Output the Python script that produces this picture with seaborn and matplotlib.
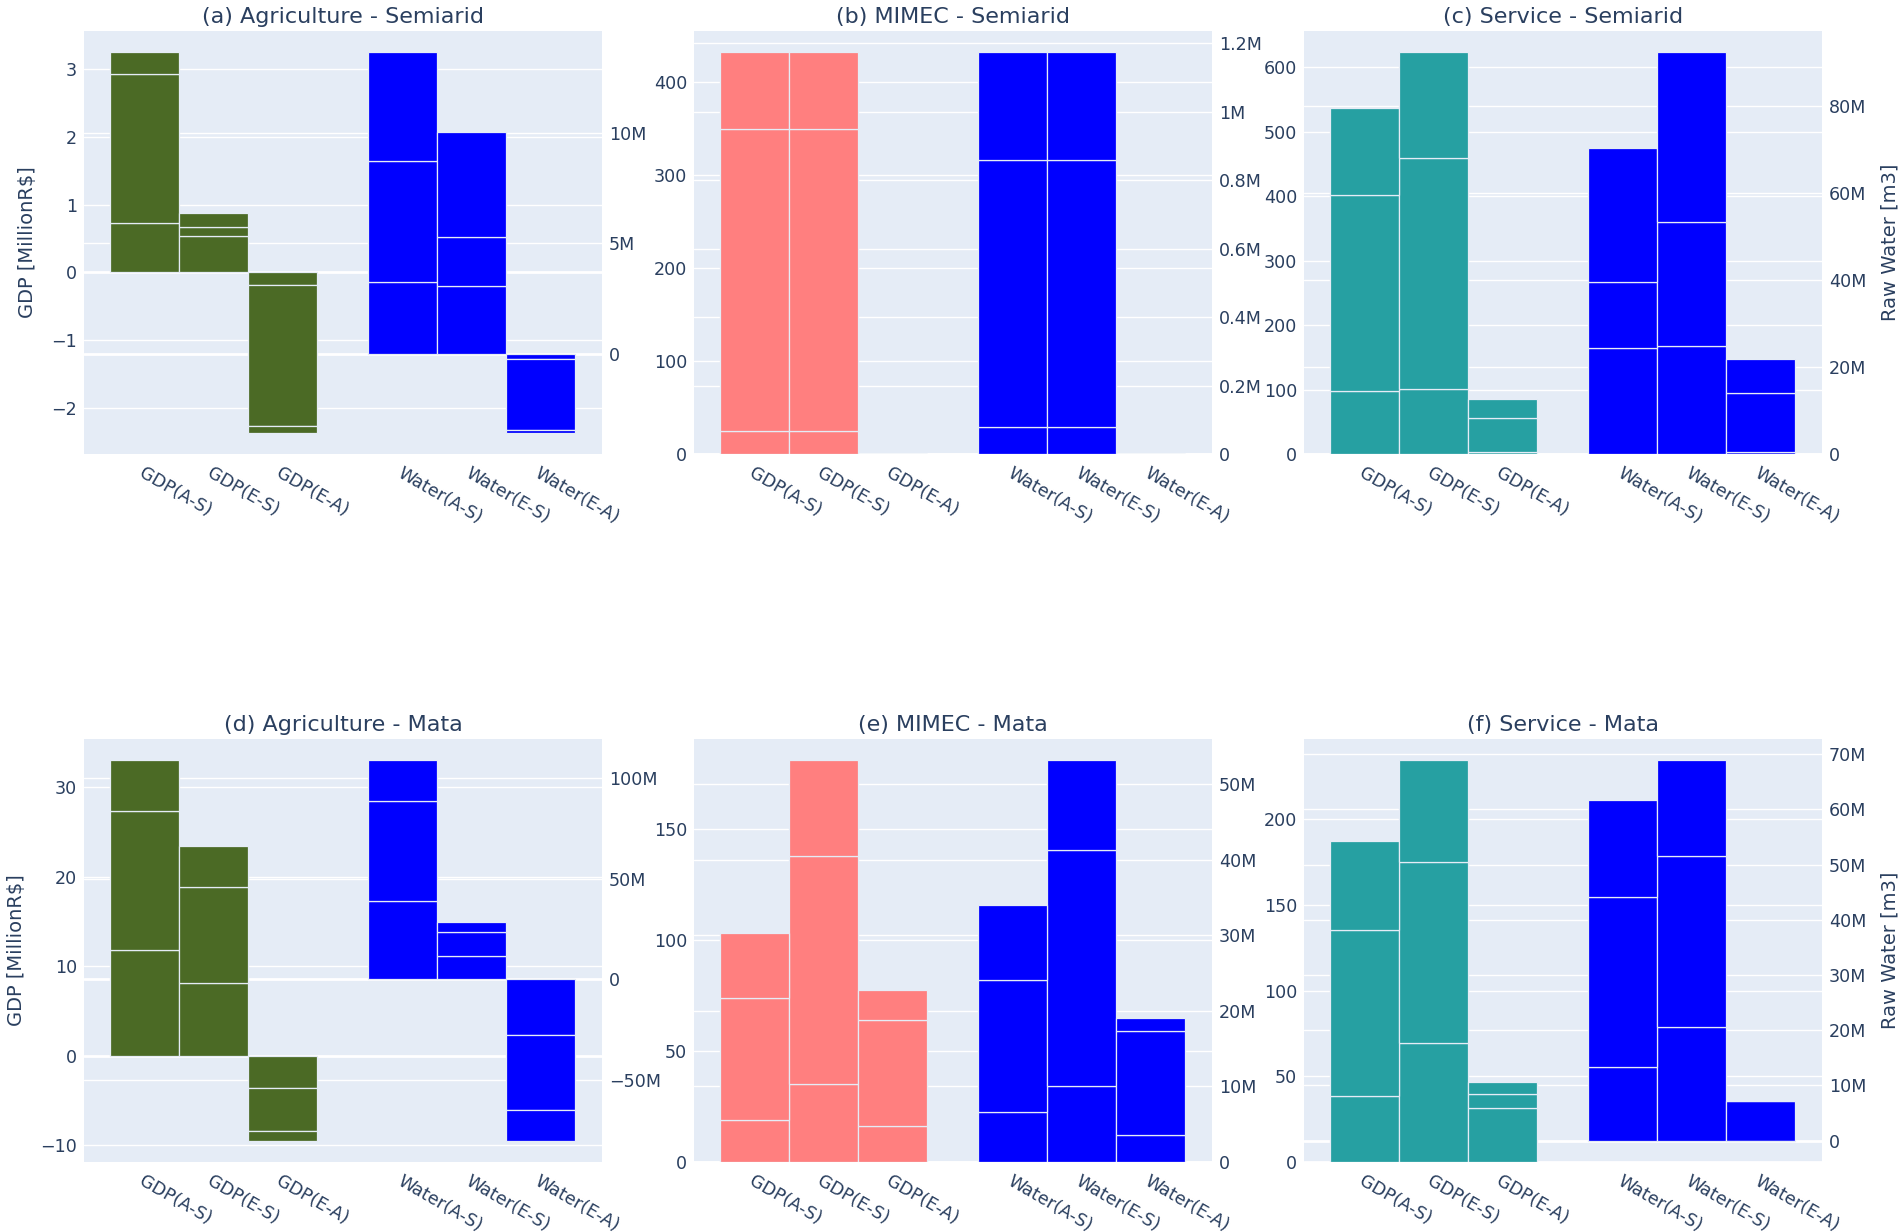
import numpy as np
import pandas as pd
import matplotlib
matplotlib.use("Agg")
import matplotlib.pyplot as plt
from matplotlib.ticker import MultipleLocator, FuncFormatter
import seaborn as sns

# ---------------- data ----------------
categories = ["GDP(A-S)", "GDP(E-S)", "GDP(E-A)", "Water(A-S)", "Water(E-S)", "Water(E-A)"]
panel_titles = ["(a) Agriculture - Semiarid", "(b) MIMEC - Semiarid", "(c) Service - Semiarid",
                "(d) Agriculture - Mata", "(e) MIMEC - Mata", "(f) Service - Mata"]

# each row = one bar (A-S, E-S, E-A); each column = stacked segment (bottom -> top)
agri_semi_gdp = [[0.732, 2.192, 0.329], [0.541, 0.127, 0.217], [-0.188, -2.08, -0.10]]
agri_semi_water = [[3.27e6, 5.45e6, 4.93e6], [3.05e6, 2.26e6, 4.72e6], [-0.21e6, -3.21e6, -0.15e6]]

mimec_semi_gdp = [[24.8, 325.4, 82.4], [24.8, 325.4, 82.4], [0.0, 0.0, 0.0]]
mimec_semi_water = [[0.080e6, 0.780e6, 0.314e6], [0.080e6, 0.780e6, 0.314e6], [0.0, 0.0, 0.0]]

serv_semi_gdp = [[97.5, 304.5, 134.0], [101.3, 357.7, 164.3], [3.7, 51.8, 30.0]]
serv_semi_water = [[24.3e6, 15.2e6, 31.0e6], [24.8e6, 28.7e6, 39.0e6], [0.5e6, 13.6e6, 7.7e6]]

agri_mata_gdp = [[11.80, 15.53, 5.67], [8.13, 10.74, 4.57], [-3.63, -4.76, -1.10]]
agri_mata_water = [[39.1e6, 49.5e6, 20.3e6], [11.4e6, 12.2e6, 5.0e6], [-27.8e6, -37.2e6, -15.3e6]]

mimec_mata_gdp = [[18.9, 55.0, 29.0], [34.9, 102.9, 43.1], [16.2, 47.8, 13.6]]
mimec_mata_water = [[6.6e6, 17.5e6, 9.9e6], [10.1e6, 31.2e6, 11.9e6], [3.6e6, 13.7e6, 1.8e6]]

serv_mata_gdp = [[38.3, 96.9, 52.2], [69.7, 105.4, 59.3], [31.4, 8.1, 7.1]]
serv_mata_water = [[13.4e6, 30.7e6, 17.6e6], [20.5e6, 31.0e6, 17.4e6], [7.1e6, -0.05e6, 0.0]]

gdp_sets = [agri_semi_gdp, mimec_semi_gdp, serv_semi_gdp, agri_mata_gdp, mimec_mata_gdp, serv_mata_gdp]
water_sets = [agri_semi_water, mimec_semi_water, serv_semi_water,
              agri_mata_water, mimec_mata_water, serv_mata_water]

# ---------------- style ----------------
GDP_COLORS = ["#4b6a25", "#ff7f7f", "#26a0a2", "#4b6a25", "#ff7f7f", "#26a0a2"]
WATER_COLOR = "#0000ff"
BG = "#e5ecf6"
TXT = "#2a3f5f"
EDGE = "#e5ecf6"
left_steps = [1, 100, 100, 10, 50, 50]
right_steps = [5e6, 0.2e6, 20e6, 50e6, 10e6, 10e6]

gdp_x = [0.0, 1.0, 2.0]
water_x = [3.75, 4.75, 5.75]
XLIM = (-0.88, 6.64)
TICK_FS = 12.6

sns.set_theme(style="white")
plt.rcParams["font.family"] = ["DejaVu Sans"]

W, H = 1902, 1232
fig = plt.figure(figsize=(W / 100, H / 100), dpi=100)
col_left = [84, 694, 1304]
row_top = [31, 739]
PW, PH = 518, 423


def stack(segs):
    segs = np.asarray(segs, dtype=float)
    pos = np.where(segs > 0, segs, 0.0)
    neg = np.where(segs < 0, segs, 0.0)
    pos_b = np.cumsum(pos, axis=1) - pos
    neg_b = np.cumsum(neg, axis=1) - neg
    bottoms = np.where(segs >= 0, pos_b, neg_b)
    return segs, bottoms, pos.sum(axis=1).max(), neg.sum(axis=1).min()


def auto_lim(hi, lo):
    hi = max(hi, 0.0)
    lo = min(lo, 0.0)
    n = int(hi > 0) + int(lo < 0)
    span = hi - lo
    R = span / (1 - 0.05 * n)
    pad = 0.05 * R
    return (lo - (pad if lo < 0 else 0.0), hi + (pad if hi > 0 else 0.0))


def draw_stack(ax, xpos, segs, bottoms, color):
    for k in range(segs.shape[1]):
        df = pd.DataFrame({"x": xpos, "y": segs[:, k]})
        sns.barplot(data=df, x="x", y="y", native_scale=True, width=1.0, color=color,
                    saturation=1, errorbar=None, bottom=bottoms[:, k], edgecolor=EDGE,
                    linewidth=0.9, ax=ax, zorder=3)


def fmt_num(v, pos):
    s = f"{v:g}"
    return s.replace("-", "\u2212")


def fmt_m(v, pos):
    if abs(v) < 1e-6:
        return "0"
    s = f"{v / 1e6:g}M"
    return s.replace("-", "\u2212")


for i in range(6):
    r, c = divmod(i, 3)
    x0 = col_left[c] / W
    y0 = 1 - (row_top[r] + PH) / H
    ax = fig.add_axes([x0, y0, PW / W, PH / H])
    ax.set_facecolor(BG)
    ax2 = ax.twinx()
    ax2.set_facecolor("none")

    g_segs, g_bot, g_hi, g_lo = stack(gdp_sets[i])
    w_segs, w_bot, w_hi, w_lo = stack(water_sets[i])

    draw_stack(ax, gdp_x, g_segs, g_bot, GDP_COLORS[i])
    draw_stack(ax2, water_x, w_segs, w_bot, WATER_COLOR)

    lim1 = auto_lim(g_hi, g_lo)
    lim2 = auto_lim(w_hi, w_lo)
    ax.set_ylim(*lim1)
    ax2.set_ylim(*lim2)
    ax.set_xlim(*XLIM)

    loc1 = MultipleLocator(left_steps[i])
    loc2 = MultipleLocator(right_steps[i])
    ax.yaxis.set_major_locator(loc1)
    ax2.yaxis.set_major_locator(loc2)
    ax.yaxis.set_major_formatter(FuncFormatter(fmt_num))
    ax2.yaxis.set_major_formatter(FuncFormatter(fmt_m))

    # gridlines (both axes) drawn beneath the bars
    ax.grid(False)
    ax2.grid(False)
    for t in loc1.tick_values(*lim1):
        if lim1[0] <= t <= lim1[1]:
            ax.axhline(t, color="white", lw=2.0 if abs(t) < 1e-12 else 1.0, zorder=1)
    for t in loc2.tick_values(*lim2):
        if lim2[0] <= t <= lim2[1]:
            yp = lim1[0] + (t - lim2[0]) / (lim2[1] - lim2[0]) * (lim1[1] - lim1[0])
            ax.axhline(yp, color="white", lw=2.0 if abs(t) < 1e-6 else 1.0, zorder=1)

    ax.set_xticks(gdp_x + water_x)
    ax.set_xticklabels(categories, rotation=-30, ha="left", va="top",
                       rotation_mode="anchor", fontsize=TICK_FS, color=TXT)
    ax.tick_params(axis="x", length=0, pad=7)
    ax.tick_params(axis="y", length=0, pad=5, labelsize=TICK_FS, labelcolor=TXT)
    ax2.tick_params(axis="y", length=0, pad=5, labelsize=TICK_FS, labelcolor=TXT)
    ax.set_xlabel("")
    ax.set_ylabel("")
    ax2.set_xlabel("")
    ax2.set_ylabel("")
    for a in (ax, ax2):
        for sp in a.spines.values():
            sp.set_visible(False)

    ax.set_title(panel_titles[i], fontsize=16, color=TXT, pad=6)
    if c == 0:
        ax.set_ylabel("GDP [MillionR$]", fontsize=14, color=TXT, labelpad=10)
    if c == 2:
        ax2.set_ylabel("Raw Water [m3]", fontsize=14, color=TXT, labelpad=10)

fig.savefig("out.png", dpi=100, facecolor="white")
